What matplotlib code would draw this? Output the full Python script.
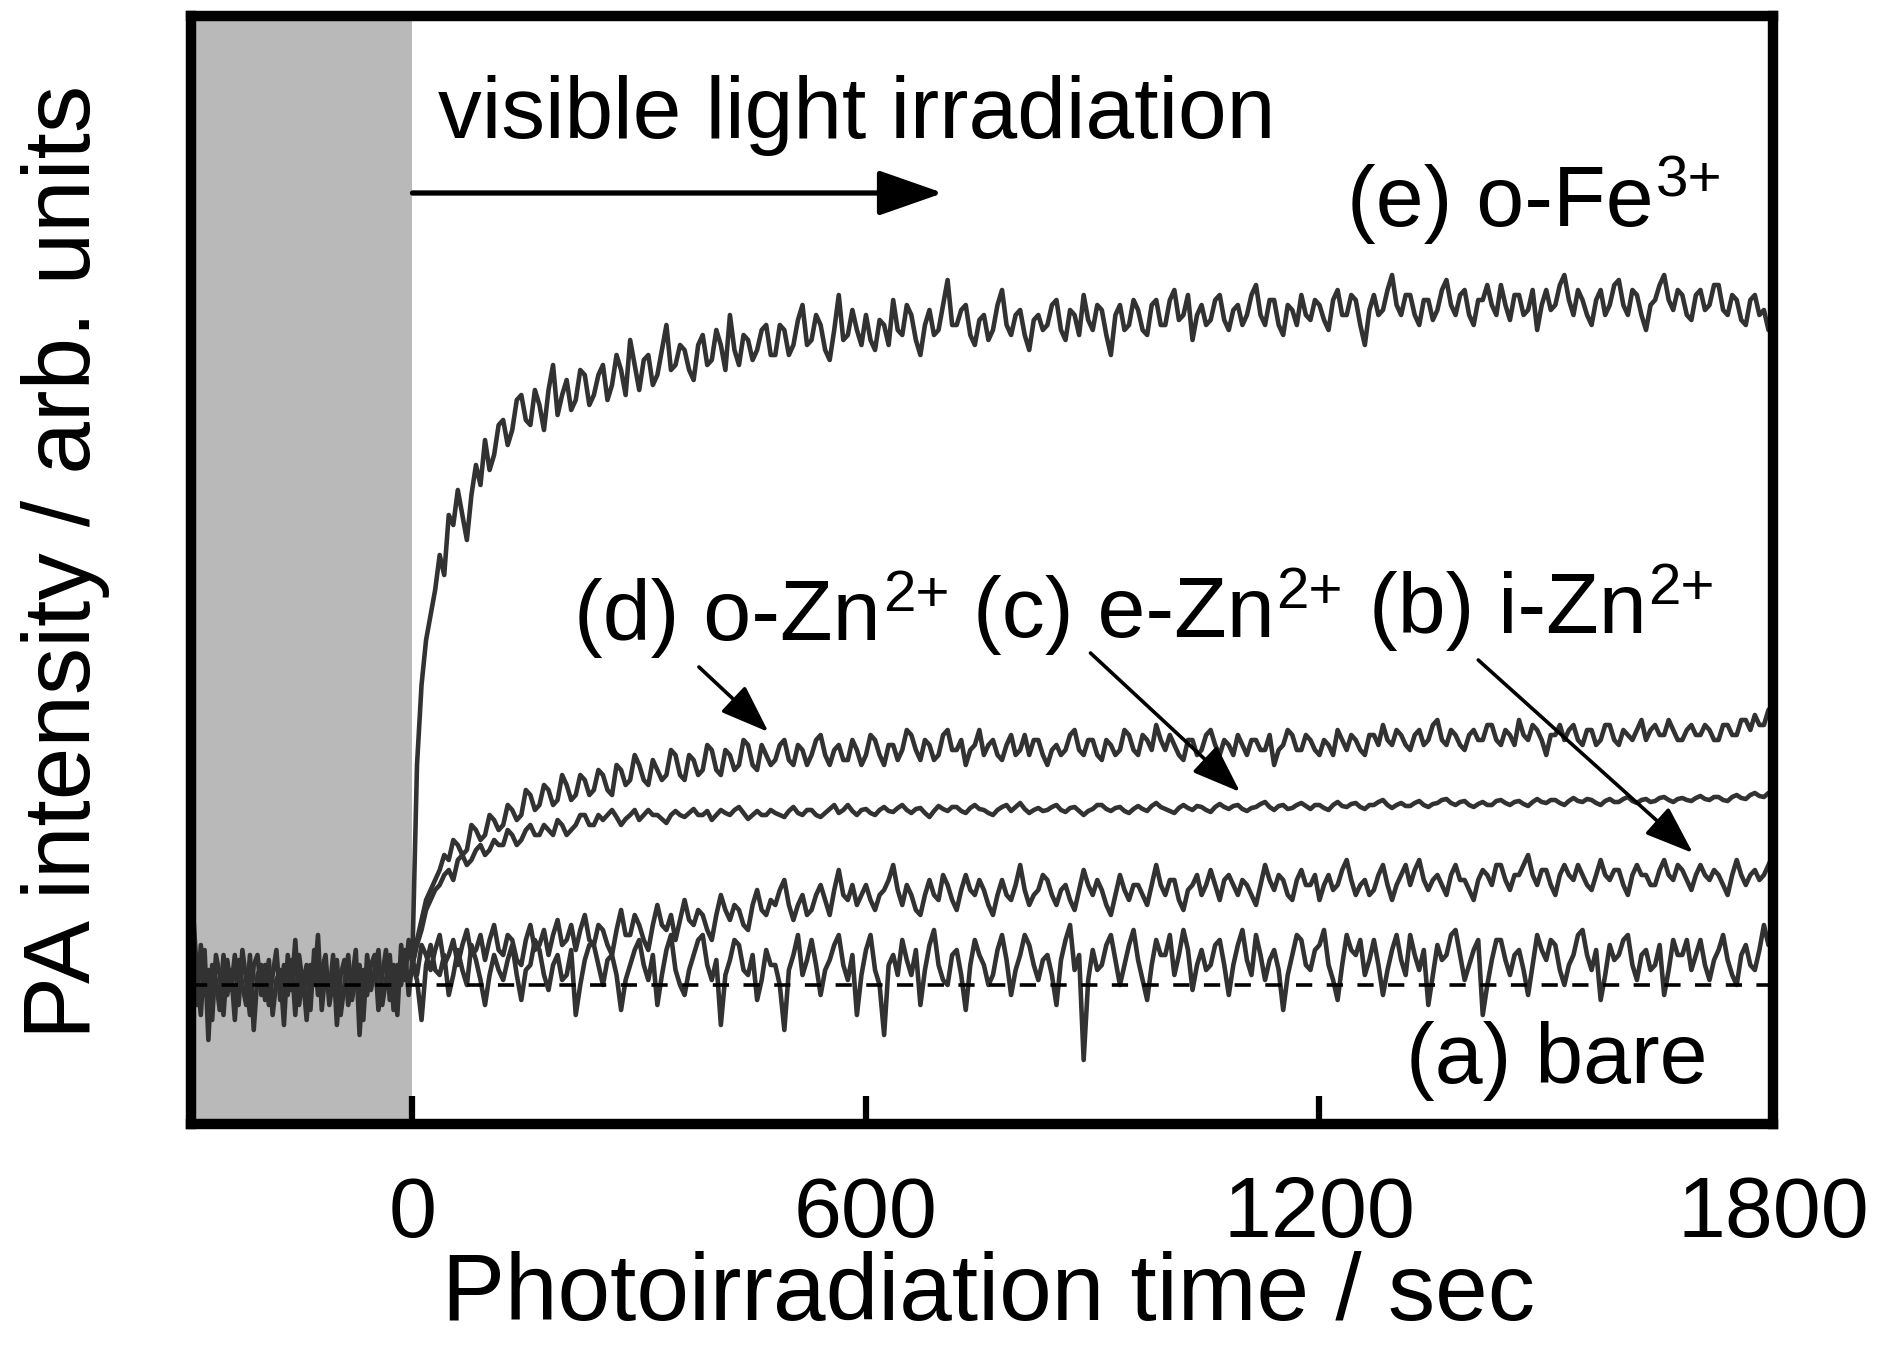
import numpy as np
import matplotlib
matplotlib.use('Agg')
import matplotlib.pyplot as plt
from matplotlib.patches import ArrowStyle

plt.rcParams['font.family'] = ['Liberation Sans', 'DejaVu Sans']

# ---------------- data ----------------
t_pre = np.arange(-290, 1, 5)          # dark period (all samples overlap)
pre = [0.7, 0.1, -0.3, 0.35, -0.55, 0.2, 0.05, -0.25, 0.3, -0.1,
       0.15, -0.35, 0.25, 0.0, -0.2, 0.3, -0.45, 0.1, 0.2, -0.15,
       0.25, -0.3, 0.05, 0.15, -0.4, 0.3, -0.05, 0.45, -0.2, 0.1,
       -0.35, 0.2, 0.0, 0.5, -0.25, 0.15, -0.1, 0.3, -0.4, 0.1,
       0.25, -0.2, 0.05, 0.35, -0.5, 0.15, -0.1, 0.2, 0.3, -0.25,
       0.1, 0.35, -0.15, 0.2, -0.3, 0.4, 0.05, 0.45, 0.2]
pre2 = [0.3, -0.2, 0.4, -0.1, 0.15, -0.35, 0.3, 0.1, -0.3, 0.25,
        -0.05, 0.3, -0.2, 0.35, 0.05, -0.3, 0.2, 0.3, -0.1, 0.2,
        -0.2, 0.1, 0.35, -0.15, 0.2, -0.1, 0.25, -0.3, 0.3, 0.0,
        0.2, -0.25, 0.35, -0.1, 0.15, 0.3, -0.2, 0.05, 0.25, -0.3,
        0.0, 0.3, -0.15, 0.1, 0.2, -0.35, 0.3, -0.05, 0.15, 0.35,
        -0.2, 0.05, 0.3, -0.25, 0.2, 0.0, 0.35, -0.1, 0.25]

t = np.arange(0, 1801, 6)              # photoirradiation time / sec

bare = [0.2, 0.05, -0.35, 0.2, 0.4, 0.15, 0.1, 0.3, -0.1, 0.1, 0.35, 0.15, 0.0, 0.4, 0.25, 0.05, -0.2, 0.1, 0.3, 0.15,
        0.05, 0.25, 0.4, 0.1, -0.15, 0.15, 0.2, 0.45, 0.35, 0.1, -0.05, 0.2, 0.3, 0.05, 0.1, 0.35, -0.3, 0.0, 0.25, 0.4,
        0.4, 0.2, 0.0, 0.25, 0.3, 0.1, -0.25, 0.05, 0.2, 0.35, 0.45, 0.2, 0.05, 0.3, -0.2, 0.1, 0.35, 0.5, 0.15, 0.0,
        -0.1, 0.15, 0.3, 0.45, 0.5, 0.2, 0.05, 0.25, -0.4, 0.1, 0.25, 0.45, 0.4, 0.15, 0.1, 0.3, -0.15, 0.05, 0.35, 0.2,
        0.2, 0.0, -0.45, 0.15, 0.3, 0.5, 0.1, 0.25, 0.45, 0.2, -0.1, 0.15, 0.25, 0.4, 0.5, 0.2, 0.05, 0.3, -0.3, 0.1,
        0.35, 0.5, 0.15, 0.0, -0.5, 0.2, 0.3, 0.1, 0.45, 0.25, 0.1, 0.35, -0.2, 0.15, 0.4, 0.55, 0.2, 0.05, 0.0, 0.3,
        0.35, 0.1, -0.25, 0.2, 0.45, 0.3, 0.2, 0.0, 0.1, 0.35, 0.5, 0.25, -0.1, 0.15, 0.3, 0.5, 0.4, 0.2, 0.05, 0.25,
        0.3, 0.1, -0.2, 0.25, 0.45, 0.6, 0.15, 0.3, -0.75, 0.05, 0.35, 0.15, 0.2, 0.4, 0.5, 0.25, 0.0, 0.2, 0.4, 0.55,
        0.25, 0.05, -0.15, 0.2, 0.45, 0.3, 0.3, 0.5, 0.1, 0.3, 0.55, 0.35, -0.05, 0.2, 0.35, 0.15, 0.2, 0.4, 0.45, 0.2,
        -0.1, 0.2, 0.4, 0.55, 0.25, 0.1, 0.5, 0.3, 0.05, 0.25, 0.35, 0.15, -0.25, 0.1, 0.3, 0.5, 0.45, 0.2, 0.15, 0.35,
        0.4, 0.55, 0.2, 0.05, -0.15, 0.2, 0.5, 0.35, 0.3, 0.45, 0.1, 0.25, 0.45, 0.2, -0.1, 0.15, 0.35, 0.5, 0.25, 0.1,
        0.5, 0.3, 0.15, 0.35, -0.2, 0.1, 0.4, 0.25, 0.3, 0.5, 0.55, 0.3, 0.05, 0.2, 0.35, 0.45, -0.3, 0.0, 0.25, 0.45,
        0.45, 0.25, 0.1, 0.3, 0.35, 0.15, -0.1, 0.2, 0.5, 0.35, 0.25, 0.45, 0.4, 0.15, 0.0, 0.2, 0.3, 0.5, 0.55, 0.3,
        0.15, 0.35, -0.15, 0.1, 0.4, 0.25, 0.3, 0.45, 0.5, 0.2, 0.05, 0.3, 0.35, 0.15, 0.2, 0.4, -0.1, 0.15, 0.45, 0.3,
        0.3, 0.45, 0.15, 0.3, 0.45, 0.2, 0.05, 0.25, 0.35, 0.5, 0.25, 0.1, 0.0, 0.3, 0.4, 0.2, 0.15, 0.35, 0.6, 0.4,
        0.5]

i_zn = [0.25, 0.1, 0.4, 0.3, 0.15, 0.35, 0.5, 0.2, 0.3, 0.45, 0.2, 0.4, 0.55, 0.3, 0.35, 0.5, 0.25, 0.45, 0.6, 0.35,
        0.3, 0.5, 0.45, 0.25, 0.2, 0.45, 0.6, 0.35, 0.4, 0.55, 0.3, 0.5, 0.65, 0.4, 0.45, 0.6, 0.35, 0.55, 0.7, 0.45,
        0.4, 0.6, 0.55, 0.4, 0.3, 0.55, 0.75, 0.5, 0.5, 0.7, 0.6, 0.45, 0.35, 0.6, 0.8, 0.6, 0.55, 0.7, 0.45, 0.65,
        0.85, 0.65, 0.6, 0.75, 0.7, 0.55, 0.45, 0.7, 0.9, 0.75, 0.65, 0.8, 0.75, 0.6, 0.55, 0.8, 0.95, 0.75, 0.7, 0.85,
        0.8, 0.95, 1.05, 0.8, 0.65, 0.8, 0.9, 0.7, 0.75, 0.9, 1.0, 0.85, 0.7, 0.95, 1.15, 0.9, 0.85, 1.0, 0.8, 0.9,
        1.0, 0.85, 0.75, 0.9, 0.95, 1.05, 1.2, 0.95, 0.8, 1.0, 0.9, 0.75, 0.7, 0.9, 1.05, 0.9, 0.85, 1.1, 1.0, 0.85,
        0.75, 0.95, 1.1, 0.95, 0.9, 1.05, 0.95, 0.8, 0.7, 0.9, 1.05, 0.9, 0.85, 1.0, 1.2, 0.95, 0.8, 0.9, 0.95, 1.1,
        1.05, 0.9, 0.8, 0.95, 1.0, 0.85, 0.75, 0.95, 1.15, 1.0, 0.9, 1.05, 0.95, 0.8, 0.7, 0.9, 1.1, 0.95, 0.85, 1.0,
        1.0, 0.9, 0.8, 1.0, 1.2, 1.0, 0.9, 1.05, 1.05, 0.85, 0.75, 0.95, 1.0, 1.1, 0.9, 1.0, 1.15, 1.0, 0.85, 1.05,
        1.1, 1.0, 0.9, 1.05, 1.0, 0.9, 0.8, 1.0, 1.2, 1.05, 0.95, 1.1, 1.05, 0.9, 0.85, 1.05, 1.15, 1.0, 1.0, 1.1,
        0.85, 1.0, 1.1, 0.95, 1.0, 1.15, 1.25, 1.05, 0.9, 1.0, 1.05, 0.9, 0.95, 1.1, 1.2, 1.0, 0.85, 1.0, 1.1, 1.2,
        1.0, 1.15, 1.25, 1.05, 0.95, 1.05, 1.1, 1.0, 0.9, 1.1, 1.2, 1.05, 1.05, 0.95, 0.85, 1.05, 1.15, 1.1, 1.0, 1.2,
        1.2, 1.05, 0.95, 1.1, 1.1, 1.2, 1.3, 1.1, 1.0, 1.15, 1.15, 1.0, 0.9, 1.1, 1.2, 1.1, 1.05, 1.2, 1.1, 1.0,
        0.95, 1.1, 1.25, 1.1, 1.05, 1.15, 1.15, 1.0, 0.9, 1.1, 1.2, 1.1, 1.1, 1.0, 1.0, 1.15, 1.25, 1.1, 1.05, 1.2,
        1.15, 1.05, 0.95, 1.1, 1.2, 1.1, 1.05, 1.15, 1.1, 1.0, 0.9, 1.1, 1.25, 1.1, 1.0, 1.1, 1.15, 1.05, 1.1, 1.2,
        1.3]

e_zn = [0.2, 0.4, 0.55, 0.75, 0.85, 0.95, 1.0, 1.1, 1.15, 1.05, 1.25, 1.3, 1.2, 1.25, 1.35, 1.4, 1.3, 1.35, 1.45, 1.4,
        1.4, 1.55, 1.5, 1.4, 1.45, 1.55, 1.6, 1.5, 1.5, 1.6, 1.55, 1.5, 1.65, 1.6, 1.5, 1.55, 1.6, 1.7, 1.7, 1.6,
        1.6, 1.7, 1.65, 1.7, 1.75, 1.68, 1.6, 1.66, 1.7, 1.75, 1.65, 1.7, 1.75, 1.7, 1.7, 1.66, 1.62, 1.7, 1.74, 1.7,
        1.68, 1.72, 1.76, 1.7, 1.7, 1.74, 1.65, 1.7, 1.75, 1.72, 1.7, 1.75, 1.78, 1.72, 1.66, 1.7, 1.74, 1.7, 1.7, 1.75,
        1.72, 1.7, 1.68, 1.74, 1.78, 1.72, 1.7, 1.75, 1.75, 1.7, 1.68, 1.72, 1.76, 1.8, 1.72, 1.75, 1.8, 1.74, 1.7, 1.75,
        1.76, 1.72, 1.7, 1.75, 1.78, 1.74, 1.73, 1.77, 1.8, 1.75, 1.72, 1.76, 1.77, 1.72, 1.68, 1.74, 1.79, 1.76, 1.74, 1.78,
        1.78, 1.74, 1.72, 1.77, 1.8, 1.76, 1.75, 1.72, 1.7, 1.75, 1.78, 1.8, 1.74, 1.78, 1.82, 1.76, 1.72, 1.75, 1.77, 1.74,
        1.75, 1.78, 1.8, 1.75, 1.73, 1.77, 1.78, 1.74, 1.7, 1.74, 1.76, 1.8, 1.8, 1.76, 1.74, 1.77, 1.78, 1.74, 1.72, 1.76,
        1.79, 1.76, 1.74, 1.79, 1.82, 1.78, 1.76, 1.74, 1.72, 1.77, 1.8, 1.77, 1.75, 1.79, 1.78, 1.75, 1.73, 1.78, 1.81, 1.78,
        1.76, 1.79, 1.8, 1.76, 1.74, 1.77, 1.78, 1.81, 1.83, 1.78, 1.75, 1.79, 1.8, 1.76, 1.77, 1.8, 1.82, 1.79, 1.76, 1.8,
        1.8, 1.77, 1.75, 1.8, 1.83, 1.79, 1.78, 1.81, 1.82, 1.78, 1.76, 1.8, 1.8, 1.83, 1.85, 1.8, 1.77, 1.8, 1.82, 1.79,
        1.79, 1.82, 1.84, 1.8, 1.78, 1.81, 1.82, 1.85, 1.86, 1.82, 1.8, 1.83, 1.84, 1.8, 1.78, 1.81, 1.83, 1.8, 1.8, 1.84,
        1.85, 1.82, 1.8, 1.83, 1.84, 1.81, 1.79, 1.83, 1.86, 1.83, 1.82, 1.85, 1.85, 1.82, 1.8, 1.84, 1.87, 1.84, 1.83, 1.86,
        1.85, 1.82, 1.8, 1.84, 1.86, 1.83, 1.83, 1.86, 1.88, 1.84, 1.82, 1.85, 1.86, 1.83, 1.84, 1.87, 1.88, 1.85, 1.83, 1.86,
        1.87, 1.85, 1.84, 1.87, 1.89, 1.86, 1.85, 1.88, 1.88, 1.85, 1.84, 1.88, 1.9, 1.87, 1.86, 1.9, 1.92, 1.89, 1.88, 1.92,
        1.95]

o_zn = [0.2, 0.45, 0.65, 0.85, 0.95, 1.05, 1.15, 1.3, 1.25, 1.45, 1.4, 1.3, 1.35, 1.6, 1.55, 1.45, 1.5, 1.7, 1.65, 1.55,
        1.6, 1.8, 1.75, 1.65, 1.7, 1.95, 1.9, 1.75, 1.8, 2.0, 1.95, 1.8, 1.85, 2.1, 2.0, 1.85, 1.9, 2.1, 2.05, 1.9,
        1.95, 2.15, 2.1, 1.95, 1.9, 2.2, 2.15, 2.0, 2.05, 2.3, 2.2, 2.05, 2.0, 2.25, 2.15, 2.05, 2.1, 2.35, 2.3, 2.1,
        2.05, 2.3, 2.25, 2.1, 2.15, 2.4, 2.35, 2.15, 2.1, 2.35, 2.3, 2.15, 2.2, 2.45, 2.4, 2.2, 2.15, 2.4, 2.3, 2.2,
        2.25, 2.4, 2.45, 2.25, 2.2, 2.4, 2.35, 2.2, 2.3, 2.45, 2.5, 2.3, 2.2, 2.35, 2.4, 2.25, 2.25, 2.45, 2.35, 2.2,
        2.3, 2.5, 2.45, 2.3, 2.2, 2.4, 2.4, 2.25, 2.35, 2.55, 2.5, 2.35, 2.25, 2.45, 2.4, 2.25, 2.3, 2.5, 2.55, 2.35,
        2.35, 2.45, 2.2, 2.35, 2.4, 2.55, 2.3, 2.4, 2.45, 2.3, 2.25, 2.4, 2.5, 2.3, 2.35, 2.5, 2.3, 2.45, 2.45, 2.3,
        2.2, 2.35, 2.4, 2.3, 2.35, 2.5, 2.55, 2.35, 2.3, 2.45, 2.45, 2.3, 2.25, 2.45, 2.4, 2.3, 2.35, 2.55, 2.5, 2.35,
        2.3, 2.5, 2.45, 2.35, 2.6, 2.45, 2.35, 2.5, 2.4, 2.3, 2.25, 2.45, 2.45, 2.3, 2.35, 2.5, 2.55, 2.4, 2.3, 2.45,
        2.4, 2.3, 2.5, 2.4, 2.3, 2.45, 2.45, 2.35, 2.35, 2.5, 2.2, 2.35, 2.4, 2.55, 2.5, 2.35, 2.35, 2.5, 2.45, 2.35,
        2.3, 2.45, 2.4, 2.3, 2.55, 2.45, 2.35, 2.5, 2.45, 2.35, 2.3, 2.5, 2.5, 2.4, 2.6, 2.45, 2.4, 2.55, 2.5, 2.4,
        2.35, 2.5, 2.55, 2.4, 2.45, 2.6, 2.65, 2.45, 2.4, 2.55, 2.5, 2.4, 2.35, 2.5, 2.55, 2.45, 2.45, 2.6, 2.6, 2.45,
        2.4, 2.55, 2.5, 2.4, 2.65, 2.5, 2.45, 2.6, 2.55, 2.45, 2.3, 2.5, 2.5, 2.6, 2.45, 2.55, 2.6, 2.45, 2.4, 2.55,
        2.55, 2.4, 2.45, 2.6, 2.6, 2.45, 2.4, 2.55, 2.5, 2.45, 2.55, 2.65, 2.45, 2.55, 2.6, 2.5, 2.5, 2.65, 2.55, 2.45,
        2.45, 2.55, 2.6, 2.5, 2.5, 2.6, 2.55, 2.45, 2.45, 2.6, 2.6, 2.5, 2.5, 2.65, 2.65, 2.55, 2.7, 2.6, 2.6, 2.75,
        2.8]

o_fe = [0.3, 2.2, 3.0, 3.45, 3.7, 3.95, 4.3, 4.1, 4.7, 4.6, 4.95, 4.7, 4.45, 4.9, 5.2, 5.0, 5.45, 5.15, 5.3, 5.6,
        5.65, 5.4, 5.55, 5.85, 5.9, 5.65, 5.6, 5.95, 5.8, 5.55, 5.95, 6.2, 5.7, 5.9, 6.05, 5.75, 5.85, 6.15, 6.1, 5.8,
        5.9, 6.1, 6.2, 5.85, 6.0, 6.3, 6.15, 5.9, 6.45, 6.2, 5.95, 6.25, 6.3, 6.0, 6.1, 6.35, 6.6, 6.15, 6.2, 6.4,
        6.35, 6.15, 6.05, 6.4, 6.5, 6.2, 6.25, 6.55, 6.4, 6.15, 6.7, 6.35, 6.2, 6.5, 6.45, 6.25, 6.35, 6.55, 6.6, 6.3,
        6.3, 6.6, 6.55, 6.3, 6.4, 6.65, 6.8, 6.4, 6.45, 6.7, 6.6, 6.35, 6.25, 6.55, 6.9, 6.45, 6.5, 6.75, 6.55, 6.4,
        6.7, 6.45, 6.35, 6.65, 6.6, 6.4, 6.85, 6.55, 6.5, 6.8, 6.7, 6.45, 6.3, 6.6, 6.75, 6.5, 6.55, 6.8, 7.05, 6.6,
        6.6, 6.75, 6.8, 6.5, 6.4, 6.65, 6.7, 6.45, 6.55, 6.8, 6.95, 6.6, 6.5, 6.7, 6.75, 6.5, 6.35, 6.65, 6.7, 6.55,
        6.6, 6.8, 6.85, 6.55, 6.45, 6.75, 6.7, 6.5, 6.9, 6.65, 6.55, 6.8, 6.75, 6.5, 6.3, 6.7, 6.8, 6.55, 6.6, 6.85,
        6.75, 6.55, 6.5, 6.8, 6.85, 6.6, 6.6, 6.85, 6.95, 6.65, 6.7, 6.9, 6.45, 6.7, 6.8, 6.6, 6.65, 6.85, 6.9, 6.65,
        6.55, 6.75, 6.8, 6.6, 6.7, 6.9, 7.0, 6.7, 6.6, 6.85, 6.85, 6.6, 6.5, 6.8, 6.75, 6.6, 6.9, 6.7, 6.65, 6.85,
        6.8, 6.65, 6.55, 6.85, 6.95, 6.7, 6.7, 6.9, 6.85, 6.6, 6.4, 6.75, 6.9, 6.7, 6.75, 6.95, 7.1, 6.8, 6.7, 6.9,
        6.9, 6.7, 6.6, 6.85, 6.85, 6.65, 6.75, 6.95, 7.05, 6.8, 6.7, 6.9, 6.95, 6.7, 6.6, 6.85, 6.85, 7.0, 6.8, 6.7,
        7.0, 6.8, 6.65, 6.9, 6.9, 6.7, 6.75, 6.95, 6.55, 6.8, 6.95, 6.75, 6.8, 7.0, 7.1, 6.85, 6.7, 6.95, 6.85, 6.7,
        6.6, 6.85, 6.95, 6.7, 6.8, 7.0, 7.05, 6.8, 6.7, 6.95, 6.9, 6.7, 6.55, 6.8, 6.85, 7.0, 7.1, 6.85, 6.75, 6.95,
        6.9, 6.7, 6.65, 6.9, 6.95, 6.75, 6.8, 7.0, 7.0, 6.75, 6.7, 6.9, 6.85, 6.65, 6.6, 6.85, 6.9, 6.7, 6.75, 6.55,
        6.6]

series = [bare, i_zn, e_zn, o_zn, o_fe]

x_ticks = [0, 600, 1200, 1800]
x_ticklabels = ['0', '600', '1200', '1800']
x_label = 'Photoirradiation time / sec'
y_label = 'PA intensity / arb. units'

# labels: (x, y baseline, main text, superscript)
labels = [(1236, 7.59, '(e) o-Fe', '3+'),
          (214, 3.45, '(d) o-Zn', '2+'),
          (741, 3.48, '(c) e-Zn', '2+'),
          (1265, 3.52, '(b) i-Zn', '2+'),
          (1315, -0.98, '(a) bare', '')]

# ---------------- figure ----------------
W, H = 1887, 1348
fig = plt.figure(figsize=(W / 100, H / 100), dpi=100)
ax = fig.add_axes([191 / W, 1 - 1124 / H, 1582 / W, (1124 - 16) / H])
ax.set_xlim(-293, 1800)
ax.set_ylim(-1.39, 9.69)

ax.axvspan(-293, 0, color='#b9b9b9', lw=0, zorder=0)

line_kw = dict(color='#323232', lw=3.3, zorder=2)
ax.plot(t_pre, pre, **line_kw)
ax.plot(t_pre, pre2, **line_kw)
for s in series:
    ax.plot(t, s, **line_kw)

ax.axhline(0, color='black', lw=2.6, ls=(0, (4.5, 4.0)), zorder=3)

for sp in ax.spines.values():
    sp.set_linewidth(7.5)
    sp.set_zorder(5)

ax.set_xticks(x_ticks)
ax.set_xticklabels(x_ticklabels)
ax.tick_params(axis='x', direction='in', length=20, width=4.5, pad=37,
               labelsize=62, top=False)
ax.tick_params(axis='y', left=False, labelleft=False)

# annotations
ax.text(34, 8.47, 'visible light irradiation', fontsize=63,
        ha='left', va='baseline')
ax.annotate('', xy=(702, 7.92), xytext=(0, 7.92),
            arrowprops=dict(arrowstyle=ArrowStyle('-|>', head_length=40, head_width=14),
                            mutation_scale=1, lw=3.8, color='black',
                            shrinkA=0, shrinkB=0))

lab_fs = 62
main_texts = []
for x, y, main, sup in labels:
    main_texts.append(ax.text(x, y, main, fontsize=lab_fs, ha='left', va='baseline'))

arrow_kw = dict(arrowstyle=ArrowStyle('-|>', head_length=30, head_width=11),
                mutation_scale=1, lw=2.6, color='black', shrinkA=0, shrinkB=0)
ax.annotate('', xy=(471, 2.53), xytext=(379, 3.18), arrowprops=arrow_kw)
ax.annotate('', xy=(1095, 1.93), xytext=(897, 3.32), arrowprops=arrow_kw)
ax.annotate('', xy=(1694, 1.32), xytext=(1410, 3.25), arrowprops=arrow_kw)

fig.text(988 / W, 1 - 1320 / H, x_label, fontsize=68, ha='center', va='baseline')
fig.text(90 / W, 1 - 562 / H, y_label, fontsize=68, rotation=90,
         ha='center', va='baseline', rotation_mode='anchor')

# superscripts placed right after their main texts
fig.canvas.draw()
renderer = fig.canvas.get_renderer()
for (x, y, main, sup), txt in zip(labels, main_texts):
    if not sup:
        continue
    bb = txt.get_window_extent(renderer)
    x0_px = ax.transData.transform((x, y))[0]
    dx_pt = (bb.x1 - x0_px) * 72 / fig.dpi + 1.5
    ax.annotate(sup, xy=(x, y), xytext=(dx_pt, 21), textcoords='offset points',
                fontsize=42, ha='left', va='baseline')

fig.savefig('out.png', dpi=100)
